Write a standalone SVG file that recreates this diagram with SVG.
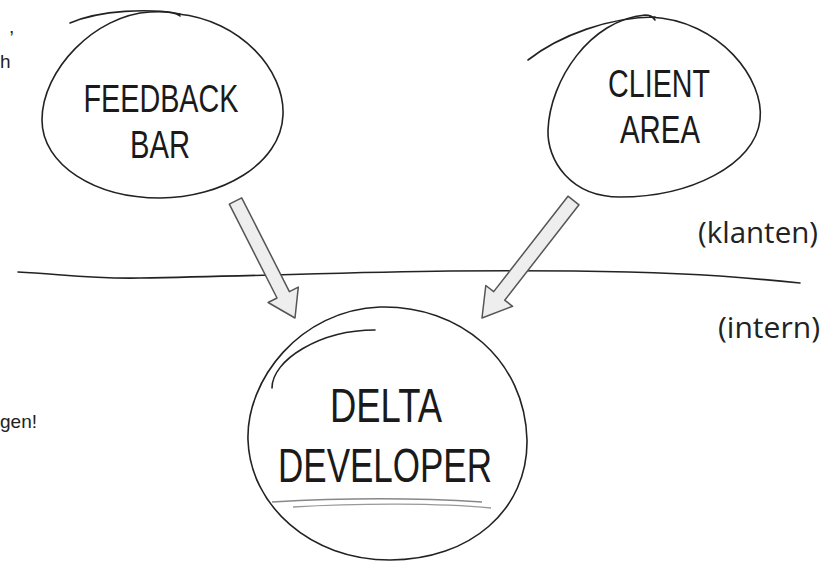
<svg xmlns="http://www.w3.org/2000/svg" width="835" height="562" viewBox="0 0 835 562">
<style>
.node text{font-family:"Liberation Sans","Open Sans",sans-serif;fill:#1a1a1a;text-anchor:middle}
.sk{fill:none;stroke:#222;stroke-width:1.6;stroke-linecap:round}
.arrow{fill:#eeeeee;stroke:#555;stroke-width:1.5;stroke-linejoin:round}
.side{font-family:"Open Sans","Noto Sans",sans-serif;fill:#222;font-size:30px}
.frag{font-family:"Liberation Sans",Arial,sans-serif;fill:#222;font-size:19px}
</style>
<rect width="835" height="562" fill="#ffffff"/>
<text class="frag" x="9" y="33">,</text>
<text class="frag" x="0" y="68">h</text>
<text class="frag" x="0" y="428">gen!</text>
<path class="sk" d="M18 272 C60 274 90 279 140 278 C260 276 350 272 450 271 C560 270 660 272 720 276 C760 279 790 282 800 283" stroke-width="2"/>
<g id="connectors">
<polygon class="arrow" points="241.7,197.8 289.4,291.6 298.3,287.1 295,318 268.1,302.5 277,298 229.3,204.2"/>
<polygon class="arrow" points="579,204.8 504.7,300.2 512.6,306.3 482,318 485.8,285.5 493.7,291.6 568,196.2"/>
</g>
<g id="feedback-bar" class="node">
<path class="sk" d="M178 14 C240 20 285 70 283 115 C281 165 220 198 160 198 C95 198 42 165 42 120 C42 70 95 15 150 12 C165 11 175 12 180 16"/>
<path class="sk" d="M70 23 C100 10 150 8 180 14"/>
<text x="161" y="112" font-size="38" textLength="155" lengthAdjust="spacingAndGlyphs">FEEDBACK</text>
<text x="160" y="158" font-size="38" textLength="60" lengthAdjust="spacingAndGlyphs">BAR</text>
</g>
<g id="client-area" class="node">
<path class="sk" d="M650 17 C720 20 765 80 760 120 C755 165 690 197 620 197 C570 197 547 160 548 130 C550 80 590 20 645 15 C650 15 652 16 655 20"/>
<path class="sk" d="M528 60 C560 35 610 17 655 17"/>
<text x="659" y="97" font-size="39" textLength="102" lengthAdjust="spacingAndGlyphs">CLIENT</text>
<text x="660" y="143" font-size="39" textLength="80" lengthAdjust="spacingAndGlyphs">AREA</text>
</g>
<g id="delta-developer" class="node">
<path class="sk" d="M380 307 C460 305 525 360 527 440 C528 510 470 560 390 560 C310 560 250 505 248 440 C246 380 300 310 380 307"/>
<path class="sk" d="M272 388 C272 360 320 330 375 330"/>
<text x="386" y="422" font-size="48" textLength="112" lengthAdjust="spacingAndGlyphs">DELTA</text>
<text x="385" y="482" font-size="48" textLength="214" lengthAdjust="spacingAndGlyphs">DEVELOPER</text>
<path d="M272 502 C340 498 420 498 482 502" fill="none" stroke="#888" stroke-width="1.6"/>
<path d="M293 507 C360 503 440 503 491 508" fill="none" stroke="#999" stroke-width="1.4"/>
</g>
<text class="side" x="698" y="243" textLength="120" lengthAdjust="spacingAndGlyphs">(klanten)</text>
<text class="side" x="718" y="338" textLength="102" lengthAdjust="spacingAndGlyphs">(intern)</text>
</svg>
